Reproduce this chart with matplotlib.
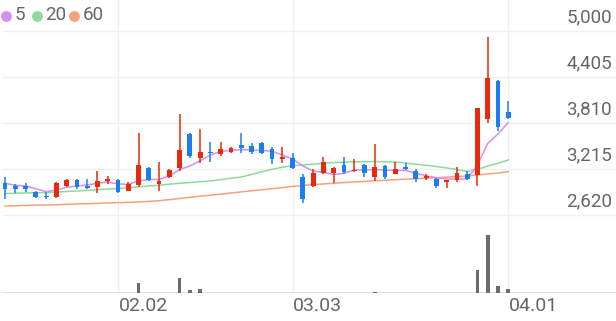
import matplotlib
matplotlib.use("Agg")
import matplotlib.pyplot as plt
import numpy as np

plt.rcParams['font.family'] = ['Roboto', 'DejaVu Sans']

# daily candles, 50 trading days
opens = [3038, 3000, 3000, 2914, 2866, 2849, 3000, 3069, 3000, 2978,
         3060, 3073, 2934, 3008, 3228, 3021, 3108, 3232, 3672, 3361,
         3440, 3409, 3431, 3526, 3513, 3547, 3474, 3340, 3361, 3108,
         2995, 3167, 3159, 3267, 3185, 3267, 3108, 3254, 3150, 3245,
         3189, 3095, 3086, 3047, 3073, 3150, 3137, 3858, 4353, 3952]
closes = [2960, 2953, 2953, 2857, 2849, 3038, 3069, 2986, 2973, 3064,
          3086, 2922, 3017, 3267, 3073, 3056, 3202, 3461, 3383, 3440,
          3422, 3474, 3483, 3483, 3439, 3418, 3344, 3374, 3232, 2823,
          3159, 3309, 3232, 3180, 3202, 3159, 3237, 3108, 3211, 3219,
          3090, 3124, 2991, 3069, 3167, 3086, 4008, 4388, 3762, 3871]
highs = [3108, 3021, 3030, 2930, 2914, 3045, 3086, 3086, 3090, 3189,
         3120, 3086, 3047, 3685, 3241, 3306, 3215, 3926, 3685, 3733,
         3560, 3560, 3504, 3677, 3556, 3560, 3496, 3496, 3418, 3150,
         3215, 3366, 3245, 3366, 3344, 3280, 3538, 3267, 3309, 3297,
         3211, 3150, 3095, 3073, 3245, 3193, 4010, 4927, 4366, 4098]
lows = [2827, 2901, 2914, 2844, 2827, 2845, 2986, 2960, 2960, 2909,
        3025, 2909, 2930, 2986, 3060, 2935, 3095, 3189, 3361, 3288,
        3310, 3383, 3418, 3426, 3409, 3405, 3280, 3289, 3215, 2779,
        2978, 3150, 3038, 3146, 3172, 3108, 3064, 3090, 3146, 3202,
        3051, 3077, 2969, 2969, 3051, 3073, 3000, 3806, 3710, 3858]
volume = [2, 2, 2, 2, 2, 3, 2, 2, 2, 2,
          2, 2, 2, 100, 5, 5, 3, 150, 30, 43,
          4, 3, 3, 4, 3, 3, 3, 3, 3, 4,
          3, 2, 2, 2, 2, 2, 8, 2, 2, 2,
          2, 2, 2, 2, 2, 2, 230, 580, 67, 40]

# moving averages
ma5 = [3030, 3004, 2995, 2960, 2921, 2943, 2978, 2995, 3008, 3030,
       3047, 3021, 3017, 3060, 3079, 3079, 3124, 3208, 3254, 3320,
       3396, 3441, 3457, 3465, 3461, 3454, 3444, 3396, 3344, 3254,
       3189, 3170, 3144, 3159, 3202, 3202, 3208, 3202, 3196, 3196,
       3159, 3128, 3102, 3086, 3086, 3086, 3267, 3545, 3668, 3816]
ma20 = [2898, 2901, 2905, 2907, 2911, 2915, 2924, 2930, 2937, 2947,
        2956, 2963, 2972, 2985, 2995, 3005, 3018, 3030, 3040, 3051,
        3060, 3077, 3095, 3111, 3144, 3179, 3211, 3238, 3256, 3267,
        3277, 3289, 3298, 3303, 3308, 3309, 3311, 3309, 3306, 3293,
        3276, 3263, 3247, 3228, 3209, 3185, 3208, 3254, 3289, 3331]
ma60 = [2736, 2739, 2743, 2747, 2749, 2753, 2757, 2762, 2766, 2770,
        2775, 2779, 2783, 2788, 2795, 2805, 2818, 2833, 2849, 2863,
        2876, 2889, 2905, 2918, 2933, 2946, 2960, 2974, 2989, 3002,
        3012, 3021, 3030, 3039, 3047, 3055, 3062, 3069, 3077, 3083,
        3090, 3096, 3102, 3109, 3117, 3124, 3137, 3150, 3163, 3179]

price_ticks = [5000, 4405, 3810, 3215, 2620]
date_pos = [11, 28, 49]
date_labels = ['02.02', '03.03', '04.01']

RED = '#e8290b'
BLUE = '#1b7ef0'
C5, C20, C60 = '#d58ff0', '#8fd99c', '#f7a17b'
GRID = '#f0f0f0'
TXT = '#666666'

W, H = 616, 321
fig = plt.figure(figsize=(W / 100, H / 100), dpi=100)
ax = fig.add_axes([0, 1 - 222 / H, 1, 222 / H])
axv = fig.add_axes([0, 1 - 293 / H, 1, 71 / H])

x = np.arange(len(opens))
xlim = (-0.49, 59.49)

for a in (ax, axv):
    a.set_xlim(*xlim)
    for s in a.spines.values():
        s.set_visible(False)
    a.set_xticks([])
    a.set_yticks([])
    for p in date_pos:
        a.axvline(p, color=GRID, lw=1, zorder=0)

ax.set_ylim(2529, 5401)
for t in price_ticks:
    ax.axhline(t, xmin=0.005, color=GRID, lw=1, zorder=0)
    ax.annotate(f'{t:,}', xy=(0.993, t), xycoords=('axes fraction', 'data'),
                xytext=(0, 10), textcoords='offset points',
                ha='right', va='center', fontsize=13.5, color=TXT)

# MA lines
ax.plot(x, ma60, color=C60, lw=1.1, zorder=2)
ax.plot(x, ma20, color=C20, lw=1.1, zorder=2)
ax.plot(x, ma5, color=C5, lw=1.1, zorder=2)

# candles
o = np.array(opens)
c = np.array(closes)
cols = [RED if cc >= oo else BLUE for oo, cc in zip(o, c)]
ax.vlines(x, lows, highs, colors=cols, lw=1.1, zorder=3)
body = np.maximum(np.abs(c - o), 12)
ax.bar(x, body, bottom=np.minimum(o, c), width=0.47, color=cols, zorder=4)

# legend
lx = [6, 37, 74]
for px, col, lab in zip(lx, [C5, C20, C60], ['5', '20', '60']):
    ax.plot([px / W], [1 - 15.5 / 222], 'o', ms=6.8, color=col,
            transform=ax.transAxes, clip_on=False)
    ax.text((px + 8.5) / W, 1 - 15.5 / 222, lab, transform=ax.transAxes,
            ha='left', va='center', fontsize=13.5, color=TXT)

# volume
axv.set_ylim(0, 710)
axv.bar(x, volume, width=0.35, color='#6b6b6b', zorder=3)
axv.axhline(0, xmin=0.005, color='#dcdcdc', lw=1.3, zorder=2)
for p, lab in zip(date_pos, date_labels):
    axv.text(p + 0.05, -13 / 71, lab, transform=axv.get_xaxis_transform(),
             ha='left', va='center', fontsize=14, color=TXT)

fig.savefig('out.png', dpi=100)
